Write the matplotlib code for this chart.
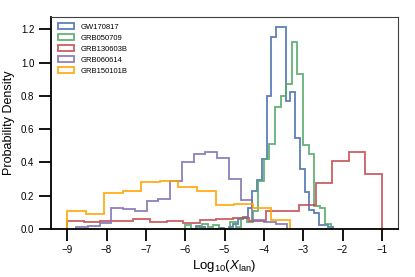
import numpy as np
import matplotlib
matplotlib.use("Agg")
import matplotlib.pyplot as plt
from matplotlib.patches import Patch

plt.rcParams['font.family'] = ['Liberation Sans', 'DejaVu Sans']
plt.rcParams['mathtext.fontset'] = 'custom'
plt.rcParams['mathtext.rm'] = 'Liberation Sans'
plt.rcParams['mathtext.it'] = 'Liberation Sans:italic'

# histogram ranges (lo, hi) and bin heights
gw170817_range = (-5.857, -2.240)
gw170817 = [0.0, 0.015, 0.01, 0.0, 0.0, 0.0, 0.005, 0.0, 0.01, 0.03,
            0.06, 0.07, 0.127, 0.227, 0.295, 0.42, 0.80, 1.157, 1.213, 1.213,
            0.77, 0.825, 0.545, 0.36, 0.223, 0.113, 0.093, 0.025, 0.022, 0.008]

grb050709_range = (-5.993, -2.295)
grb050709 = [0.025, 0.0, 0.01, 0.03, 0.012, 0.02, 0.0, 0.0, 0.04, 0.012,
             0.065, 0.04, 0.11, 0.29, 0.42, 0.51, 0.735, 0.80, 0.87, 1.123,
             0.93, 0.504, 0.45, 0.14, 0.123, 0.03]

grb130603b_range = (-9.0, -1.0)
grb130603b = [0.044, 0.040, 0.045, 0.047, 0.060, 0.043, 0.045, 0.037, 0.050, 0.060,
              0.066, 0.047, 0.108, 0.108, 0.143, 0.277, 0.41, 0.46, 0.328]

grb060614_range = (-8.77, -3.40)
grb060614 = [0.01, 0.015, 0.032, 0.125, 0.117, 0.106, 0.169, 0.177, 0.288, 0.40,
             0.452, 0.462, 0.428, 0.30, 0.173, 0.052, 0.042, 0.026]

grb150101b_range = (-9.0, -3.34)
grb150101b = [0.11, 0.09, 0.215, 0.225, 0.28, 0.285, 0.25, 0.23, 0.145, 0.148,
              0.127, 0.052]

series = [
    ("GW170817", gw170817_range, gw170817, "#4C72B0"),
    ("GRB050709", grb050709_range, grb050709, "#55A868"),
    ("GRB130603B", grb130603b_range, grb130603b, "#C44E52"),
    ("GRB060614", grb060614_range, grb060614, "#8172B2"),
    ("GRB150101B", grb150101b_range, grb150101b, "#FFA500"),
]

fig = plt.figure(figsize=(4.15, 2.77), dpi=100)
ax = fig.add_axes([0.123, 0.174, 0.836, 0.766])

handles = []
for name, (lo, hi), vals, color in series:
    edges = np.linspace(lo, hi, len(vals) + 1)
    ax.stairs(vals, edges, color=color, linewidth=1.3, alpha=0.9)
    handles.append(Patch(facecolor='none', edgecolor=color, linewidth=1.3,
                         alpha=0.9, label=name))

ax.set_xlim(-9.41, -0.59)
ax.set_ylim(0, 1.277)
ax.set_xticks(range(-9, 0))
ax.set_yticks(np.arange(0, 1.21, 0.2))
ax.set_yticklabels([f"{v:.1f}" for v in np.arange(0, 1.21, 0.2)])

ax.tick_params(direction='out', length=8.5, width=1.3, labelsize=7.0, pad=3.5)
for side in ['left', 'bottom']:
    ax.spines[side].set_linewidth(1.3)
    ax.spines[side].set_color('black')
for side in ['top', 'right']:
    ax.spines[side].set_linewidth(0.8)
    ax.spines[side].set_color('0.25')

ax.set_xlabel('Log$_{10}$($X_{\\rm lan}$)', fontsize=9.5, labelpad=2)
ax.set_ylabel('Probability Density', fontsize=9, labelpad=4)

ax.legend(handles=handles, loc='upper left', fontsize=5.5, frameon=False,
          handlelength=2.2, handleheight=0.8, handletextpad=0.8,
          labelspacing=0.45, borderaxespad=0.45)

fig.savefig('out.png', dpi=100)
